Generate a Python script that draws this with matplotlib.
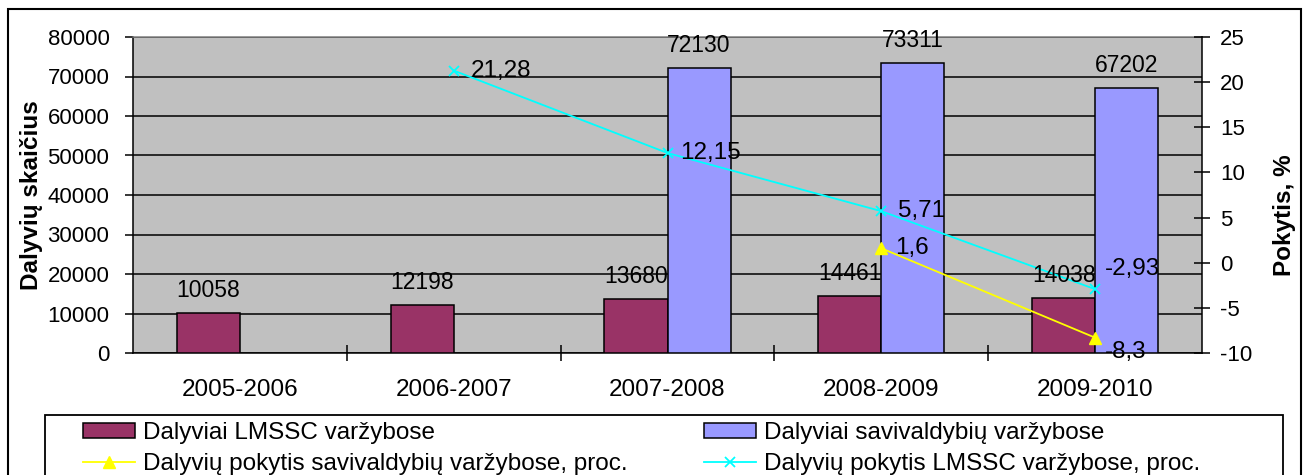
import numpy as np
import matplotlib
matplotlib.use("Agg")
import matplotlib.pyplot as plt
from matplotlib.lines import Line2D
from matplotlib.patches import Patch, Rectangle

plt.rcParams["font.family"] = ["Liberation Sans", "DejaVu Sans"]
plt.rcParams["font.size"] = 16
plt.rcParams["axes.unicode_minus"] = False

seasons = ["2005-2006", "2006-2007", "2007-2008", "2008-2009", "2009-2010"]
lmssc_participants = [10058, 12198, 13680, 14461, 14038]
municipal_participants = [np.nan, np.nan, 72130, 73311, 67202]
municipal_change = [np.nan, np.nan, np.nan, 1.6, -8.3]
lmssc_change = [np.nan, 21.28, 12.15, 5.71, -2.93]

label_bar_lmssc = "Dalyviai LMSSC varžybose"
label_bar_muni = "Dalyviai savivaldybių varžybose"
label_line_muni = "Dalyvių pokytis savivaldybių varžybose, proc."
label_line_lmssc = "Dalyvių pokytis LMSSC varžybose, proc."

MAROON = "#993366"
PERIWINKLE = "#9999FF"
YELLOW = "#FFFF00"
CYAN = "#00FFFF"
TEXT_SIZE = 17.5

W, H = 1303, 475
fig = plt.figure(figsize=(W / 100, H / 100), dpi=100)


def fx(px):
    return px / W


def fy(py):
    return 1 - py / H


def fmt_lt(v):
    return f"{v:g}".replace(".", ",")


ax = fig.add_axes([fx(133), fy(353), fx(1202) - fx(133), fy(37) - fy(353)])
ax.set_facecolor("#C0C0C0")

x = np.arange(len(seasons))
bar_w = 0.295
ax.bar(x, lmssc_participants, width=-bar_w, align="edge", color=MAROON,
       edgecolor="black", linewidth=1.1, zorder=3)
ax.bar(x, municipal_participants, width=bar_w, align="edge", color=PERIWINKLE,
       edgecolor="black", linewidth=1.1, zorder=3)

ax.set_xlim(-0.5, len(seasons) - 0.5)
ax.set_ylim(0, 80000)
ax.set_yticks(np.arange(0, 80001, 10000))
ax.yaxis.grid(True, color="black", linewidth=1.1)
ax.set_axisbelow(True)
ax.set_xticks(x)
ax.set_xticklabels(seasons, fontsize=TEXT_SIZE)
ax.set_xticks(np.arange(0.5, len(seasons) - 0.5, 1), minor=True)
ax.tick_params(axis="x", which="major", length=0, pad=19)
ax.tick_params(axis="x", which="minor", direction="inout", length=11, width=1.1)
ax.tick_params(axis="y", direction="out", length=6, width=1.1, pad=11)
for side in ["left", "bottom"]:
    ax.spines[side].set_linewidth(1.1)
ax.spines["top"].set_color("#808080")
ax.spines["top"].set_linewidth(1.1)
ax.spines["right"].set_visible(False)

ax2 = ax.twinx()
ax2.set_ylim(-10, 25)
ax2.set_yticks(np.arange(-10, 26, 5))
ax2.tick_params(axis="y", direction="inout", length=12, width=1.1, pad=7)
ax2.spines["right"].set_linewidth(1.1)
for side in ["left", "top", "bottom"]:
    ax2.spines[side].set_visible(False)

ax2.plot(x, municipal_change, color=YELLOW, linewidth=1.3, marker="^",
         markersize=9, markerfacecolor=YELLOW, markeredgecolor=YELLOW, zorder=4)
ax2.plot(x, lmssc_change, color=CYAN, linewidth=1.3, marker="x",
         markersize=7, markeredgewidth=1.3, zorder=4)

# data labels on bars
for xi, v in zip(x, lmssc_participants):
    ax2.annotate(str(v), xy=(xi - bar_w / 2, v), xycoords=ax.transData,
                 xytext=(0, 11.5), textcoords="offset points",
                 ha="center", va="baseline", fontsize=16.5, zorder=6)
for xi, v in zip(x, municipal_participants):
    if not np.isnan(v):
        ax2.annotate(str(int(v)), xy=(xi + bar_w / 2, v), xycoords=ax.transData,
                     xytext=(0, 11.5), textcoords="offset points",
                     ha="center", va="baseline", fontsize=16.5, zorder=6)

# data labels on lines (offsets in pixels)
lmssc_offsets = [None, (17, 0), (13, 0), (17, 0), (10, 20)]
muni_offsets = [None, None, None, (14, 0), (10, -14)]
for series, offsets in [(lmssc_change, lmssc_offsets), (municipal_change, muni_offsets)]:
    for xi, v, off in zip(x, series, offsets):
        if off is None or np.isnan(v):
            continue
        ax2.annotate(fmt_lt(v), xy=(xi, v), xytext=(off[0] * 0.72, off[1] * 0.72),
                     textcoords="offset points", ha="left", va="center",
                     fontsize=17.5, zorder=6)

fig.text(fx(32), fy(195), "Dalyvių skaičius", rotation=90, ha="center",
         va="center", fontweight="bold", fontsize=TEXT_SIZE)
fig.text(fx(1285), fy(215), "Pokytis, %", rotation=90, ha="center",
         va="center", fontweight="bold", fontsize=TEXT_SIZE)

# outer chart border and legend frame
fig.patches.append(Rectangle((fx(8), -0.05), fx(1301) - fx(8), fy(9) + 0.05,
                             transform=fig.transFigure, fill=False,
                             edgecolor="black", linewidth=1.5))
fig.patches.append(Rectangle((fx(45), -0.05), fx(1283) - fx(45), fy(415) + 0.05,
                             transform=fig.transFigure, fill=False,
                             edgecolor="black", linewidth=1.3))

h_lmssc = Patch(facecolor=MAROON, edgecolor="black", linewidth=1.1)
h_muni = Patch(facecolor=PERIWINKLE, edgecolor="black", linewidth=1.1)
h_yellow = Line2D([], [], color=YELLOW, linewidth=1.3, marker="^", markersize=9)
h_cyan = Line2D([], [], color=CYAN, linewidth=1.3, marker="x", markersize=7,
                markeredgewidth=1.3)

leg_kw = dict(frameon=False, loc="upper left", handlelength=2.15,
              handleheight=0.55, handletextpad=0.33, labelspacing=0.36,
              borderpad=0, borderaxespad=0, fontsize=TEXT_SIZE)
leg1 = fig.legend([h_lmssc, h_yellow], [label_bar_lmssc, label_line_muni],
                  bbox_to_anchor=(fx(83), fy(422)), **leg_kw)
leg2 = fig.legend([h_muni, h_cyan], [label_bar_muni, label_line_lmssc],
                  bbox_to_anchor=(fx(704), fy(422)), **leg_kw)

fig.savefig("out.png", dpi=100)
